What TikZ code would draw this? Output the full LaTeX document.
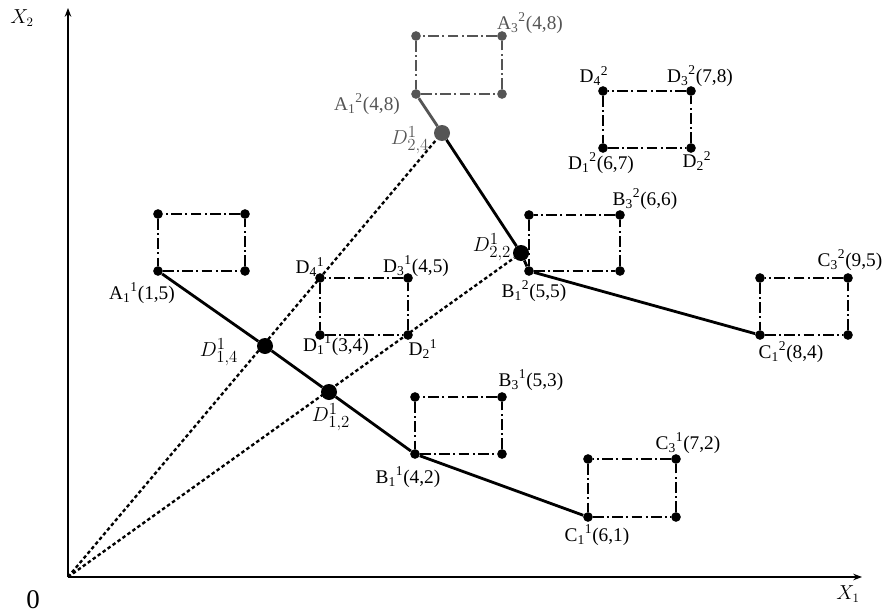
\documentclass[tikz,border=0pt]{standalone}
\usepackage{fontspec}
\setmainfont{Liberation Serif}
\usetikzlibrary{arrows.meta}
\definecolor{wmgray}{RGB}{85,85,85}

\newcommand{\ptname}[3]{#1\textsubscript{#2}\textsuperscript{#3}}

\begin{document}
\begin{tikzpicture}[x=0.03cm, y=-0.03cm, >=Stealth,
    corner/.style={circle, fill=black, inner sep=0pt, minimum size=0.29cm},
    bigdot/.style={circle, fill=black, inner sep=0pt, minimum size=0.48cm},
    frame/.style={line width=0.9pt, dash pattern=on 9pt off 3pt on 1.5pt off 3pt},
    route/.style={line width=2.4pt},
    ray/.style={line width=2pt, dash pattern=on 3pt off 2.2pt},
    lbl/.style={font=\fontsize{16.5}{18}\selectfont, inner sep=0pt},
    dlbl/.style={font=\fontsize{19}{21}\selectfont, inner sep=0pt},
    axlbl/.style={font=\fontsize{16}{18}\selectfont, inner sep=0pt}]
    \useasboundingbox (0,0) rectangle (885,615);

    % -- axes --
    \coordinate (O) at (68,577);
    \coordinate (x1end) at (862,577);
    \coordinate (x2end) at (68,8);
    \draw[->, line width=1pt] (O) -- (x1end);
    \draw[->, line width=1pt] (O) -- (x2end);
    \node[font=\fontsize{23}{25}\selectfont, inner sep=0pt] (zero) at (33,600) {0};
    \node[axlbl] (lx1) at (848,594) {$X_1$};
    \node[axlbl] (lx2) at (22,18) {$X_2$};

    % -- crossing points --
    \node[bigdot] (D14) at (265,346) {};
    \node[bigdot] (D12) at (329,392) {};
    \node[bigdot, fill=wmgray] (D24) at (442,133) {};
    \node[bigdot] (D22) at (521,253) {};

    % -- dotted rays from the origin --
    \draw[ray] (O) -- (D24);
    \draw[ray] (O) -- (D22);

    % -- dash-dot frames: name / lower-left / upper-right / colour
    \foreach \n/\lx/\ly/\rx/\ry/\col in {A1/158/271/245/214/black,
        A2/416/94/502/36/wmgray, D2/603/148/691/91/black,
        D1/320/335/408/278/black, B2/529/271/620/215/black,
        C2/760/335/848/278/black, B1/415/454/502/397/black,
        C1/588/517/676/459/black}{
        \node[corner, fill=\col] (\n-1) at (\lx,\ly) {};
        \node[corner, fill=\col] (\n-2) at (\rx,\ly) {};
        \node[corner, fill=\col] (\n-3) at (\rx,\ry) {};
        \node[corner, fill=\col] (\n-4) at (\lx,\ry) {};
        \draw[frame, \col] (\n-1) -- (\n-2) -- (\n-3) -- (\n-4) -- (\n-1);
    }

    % -- thick routes --
    \draw[route] (A1-1) -- (D14) -- (D12) -- (B1-1) -- (C1-1);
    \draw[route, wmgray] (A2-1) -- (D24);
    \draw[route] (D24) -- (D22) -- (B2-1) -- (C2-1);

    % -- crossing labels --
    \node[dlbl] (lD14) at (219,352) {$D^{1}_{1,4}$};
    \node[dlbl] (lD12) at (331,417) {$D^{1}_{1,2}$};
    \node[dlbl, text=wmgray] (lD24) at (410,140) {$D^{1}_{2,4}$};
    \node[dlbl] (lD22) at (492,247) {$D^{1}_{2,2}$};

    % -- point labels --
    \node[lbl] (lA11) at (142,293) {\ptname{A}{1}{1}(1,5)};
    \node[lbl] (lD41) at (310,267) {\ptname{D}{4}{1}};
    \node[lbl] (lD31) at (416,266) {\ptname{D}{3}{1}(4,5)};
    \node[lbl] (lD11) at (336,345) {\ptname{D}{1}{1}(3,4)};
    \node[lbl] (lD21) at (423,349) {\ptname{D}{2}{1}};
    \node[lbl] (lB31) at (531,380) {\ptname{B}{3}{1}(5,3)};
    \node[lbl] (lB11) at (408,477) {\ptname{B}{1}{1}(4,2)};
    \node[lbl] (lC31) at (688,443) {\ptname{C}{3}{1}(7,2)};
    \node[lbl] (lC11) at (597,535) {\ptname{C}{1}{1}(6,1)};
    \node[lbl, text=wmgray] (lA32) at (530,23) {\ptname{A}{3}{2}(4,8)};
    \node[lbl, text=wmgray] (lA12) at (367,104) {\ptname{A}{1}{2}(4,8)};
    \node[lbl] (lD42) at (594,76) {\ptname{D}{4}{2}};
    \node[lbl] (lD32) at (700,76) {\ptname{D}{3}{2}(7,8)};
    \node[lbl] (lD12l) at (601,163) {\ptname{D}{1}{2}(6,7)};
    \node[lbl] (lD22l) at (697,161) {\ptname{D}{2}{2}};
    \node[lbl] (lB32) at (645,199) {\ptname{B}{3}{2}(6,6)};
    \node[lbl] (lB12) at (534,291) {\ptname{B}{1}{2}(5,5)};
    \node[lbl] (lC32) at (850,260) {\ptname{C}{3}{2}(9,5)};
    \node[lbl] (lC12) at (791,352) {\ptname{C}{1}{2}(8,4)};
\end{tikzpicture}
\end{document}
